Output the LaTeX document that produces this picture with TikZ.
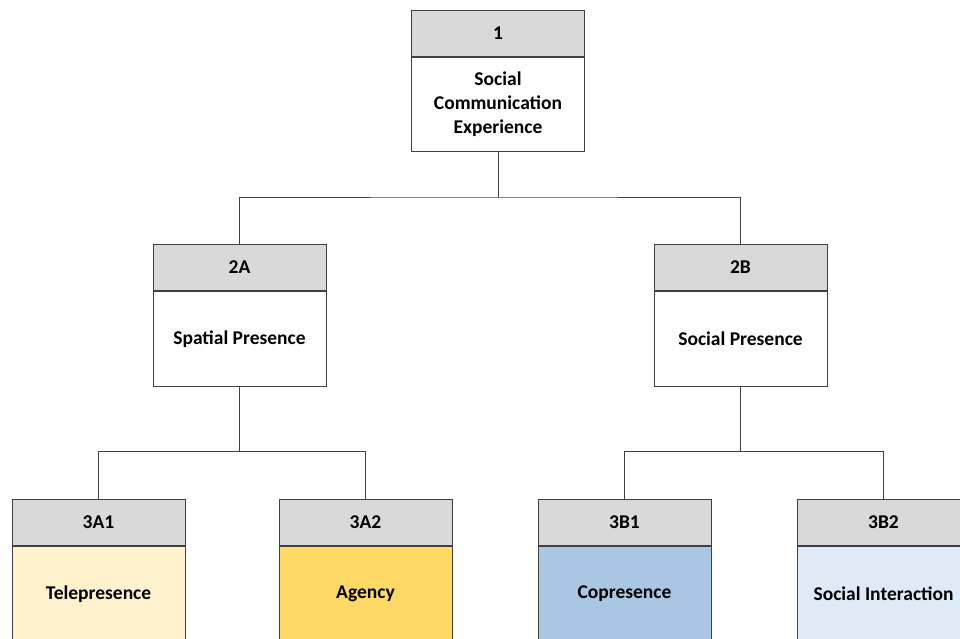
\documentclass[tikz,border=0pt]{standalone}
\usepackage{fontspec}
\setmainfont{Carlito}
\definecolor{linec}{HTML}{404040}
\definecolor{hdrgray}{HTML}{D9D9D9}
\definecolor{lightyellow}{HTML}{FFF2CC}
\definecolor{gold}{HTML}{FFD966}
\definecolor{midblue}{HTML}{A9C6E3}
\definecolor{paleblue}{HTML}{DEEBF7}
\begin{document}
\begin{tikzpicture}[x=1pt,y=-1pt,
  boxfont/.style={font=\bfseries\fontsize{19.5}{24}\selectfont, text=black},
  hdr/.style={boxfont, draw=linec, line width=1pt, fill=hdrgray, minimum width=173pt, minimum height=46pt, anchor=north, inner sep=0pt},
  body/.style={boxfont, draw=linec, line width=1pt, fill=white, minimum width=173pt, minimum height=95pt, anchor=north, inner sep=0pt, align=center},
  conn/.style={draw=linec, line width=1pt}]
\useasboundingbox (0,0) rectangle (960,639);
% level 1
\node[hdr] (h1) at (498,10) {1};
\node[body, minimum height=94pt] (b1) at (h1.south) {Social\\Communication\\Experience};
% level 2
\node[hdr] (h2a) at (239.5,244) {2A};
\node[body] (b2a) at (h2a.south) {Spatial Presence};
\node[hdr] (h2b) at (740.5,244) {2B};
\node[body] (b2b) at (h2b.south) {Social Presence};
% level 3
\node[hdr] (h3a1) at (98.5,499) {3A1};
\node[body, fill=lightyellow] (b3a1) at (h3a1.south) {Telepresence};
\node[hdr] (h3a2) at (365.5,499) {3A2};
\node[body, fill=gold] (b3a2) at (h3a2.south) {Agency};
\node[hdr] (h3b1) at (624.5,499) {3B1};
\node[body, fill=midblue] (b3b1) at (h3b1.south) {Copresence};
\node[hdr] (h3b2) at (883.5,499) {3B2};
\node[body, fill=paleblue] (b3b2) at (h3b2.south) {Social Interaction};
% junctions
\coordinate (j1) at (b1.south |- 0,197);
\coordinate (j2a) at (b2a.south |- 0,451.5);
\coordinate (j2b) at (b2b.south |- 0,451.5);
% connectors
\draw[conn] (b1.south) -- (j1);
\draw[conn] (h2a.north) |- (j1) -| (h2b.north);
\draw[conn] (b2a.south) -- (j2a);
\draw[conn] (h3a1.north) |- (j2a) -| (h3a2.north);
\draw[conn] (b2b.south) -- (j2b);
\draw[conn] (h3b1.north) |- (j2b) -| (h3b2.north);
\end{tikzpicture}
\end{document}
